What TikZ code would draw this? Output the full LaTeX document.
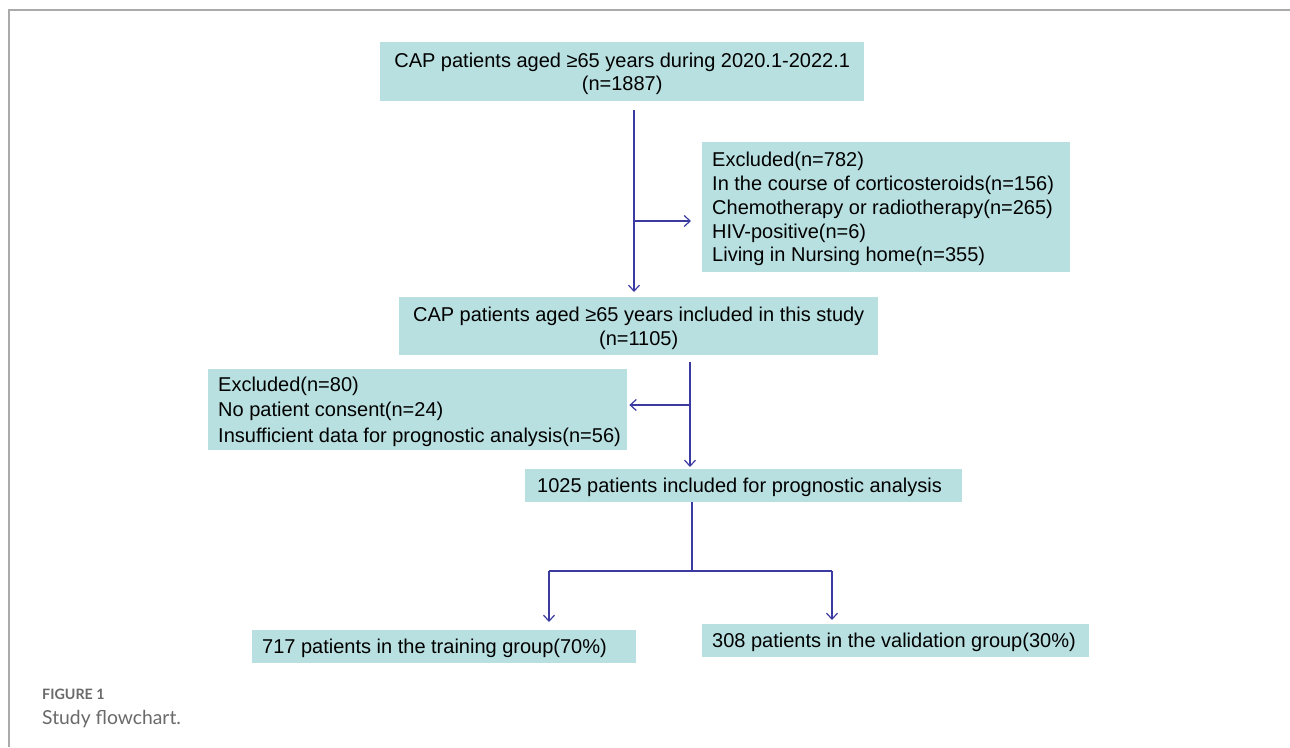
\documentclass[tikz,border=0pt]{standalone}
\usepackage{fontspec}
\setmainfont{Liberation Sans}
\newfontfamily\capfont{Lato}
\usetikzlibrary{arrows.meta}
\definecolor{boxfill}{HTML}{B9E0E1}
\definecolor{linec}{HTML}{3A3AA0}
\definecolor{framec}{HTML}{AAAAAA}
\definecolor{capc}{HTML}{6A6A6A}
\begin{document}
\begin{tikzpicture}[x=1pt,y=-1pt,
  box/.style={fill=boxfill,draw=none,anchor=north west,inner sep=0pt},
  txt/.style={inner sep=0pt,yshift=-2pt,font=\fontsize{20}{23.7}\selectfont},
  ltxt/.style={txt,anchor=west,align=left,xshift=10pt},
  arr/.style={draw=linec,line width=1.4pt,-{Straight Barb[length=6pt,width=11pt,line width=1.2pt]}},
  ln/.style={draw=linec,line width=1.4pt}]
\useasboundingbox (0,0) rectangle (1290,747);
\fill[white] (0,0) rectangle (1290,747);
\draw[framec,line width=1.5pt] (1290,10) -- (9,10) -- (9,747);
% boxes
\node[box,minimum width=484pt,minimum height=59pt] (b1) at (380,42) {};
\node[txt,align=center] (t1) at (b1.center) {CAP patients aged ≥65 years during 2020.1-2022.1\\(n=1887)};
\node[box,minimum width=368pt,minimum height=130pt] (b2) at (702,142) {};
\node[ltxt] (t2) at (b2.west)
  {Excluded(n=782)\\In the course of corticosteroids(n=156)\\Chemotherapy or radiotherapy(n=265)\\HIV-positive(n=6)\\Living in Nursing home(n=355)};
\node[box,minimum width=479pt,minimum height=58pt] (b3) at (399,297) {};
\node[txt,align=center] (t3) at (b3.center) {CAP patients aged ≥65 years included in this study\\(n=1105)};
\node[box,minimum width=419pt,minimum height=81pt] (b4) at (208,369) {};
\node[ltxt,font=\fontsize{20}{25.5}\selectfont] (t4) at (b4.west)
  {Excluded(n=80)\\No patient consent(n=24)\\Insufficient data for prognostic analysis(n=56)};
\node[box,minimum width=437pt,minimum height=33pt] (b5) at (525,469) {};
\node[ltxt,xshift=2pt] (t5) at (b5.west) {1025 patients included for prognostic analysis};
\node[box,minimum width=384pt,minimum height=33pt] (b6) at (252,630) {};
\node[ltxt] (t6) at (b6.west) {717 patients in the training group(70\%)};
\node[box,minimum width=387pt,minimum height=33pt] (b7) at (702,624) {};
\node[ltxt] (t7) at (b7.west) {308 patients in the validation group(30\%)};
% connectors
\coordinate (x1) at (634,0);
\coordinate (j1) at (634,221);
\draw[arr,shorten <=9pt,shorten >=5pt] (b1.south -| x1) -- (b3.north -| x1);
\draw[arr,shorten >=11pt] (j1) -- (j1 -| b2.west);
\coordinate (x2) at (690,0);
\coordinate (j2) at (690,405);
\draw[arr,shorten <=7pt,shorten >=2pt] (b3.south -| x2) -- (b5.north -| x2);
\draw[arr,shorten >=2pt] (j2) -- (j2 -| b4.east);
\coordinate (x3) at (692,0);
\coordinate (j3) at (692,571);
\coordinate (l3) at (549,571);
\coordinate (r3) at (832,571);
\draw[ln] (b5.south -| x3) -- (j3);
\draw[ln] (l3) -- (r3);
\draw[arr,shorten >=8pt] (l3) -- (l3 |- b6.north);
\draw[arr,shorten >=4pt] (r3) -- (r3 |- b7.north);
% caption
\node[anchor=base west,inner sep=0pt,text=capc,font=\capfont\bfseries\fontsize{14.3}{16}\selectfont] (cap1) at (42,699) {FIGURE 1};
\node[anchor=base west,inner sep=0pt,text=capc,font=\capfont\fontsize{19.3}{22}\selectfont] (cap2) at (42,724) {Study flowchart.};
\end{tikzpicture}
\end{document}
